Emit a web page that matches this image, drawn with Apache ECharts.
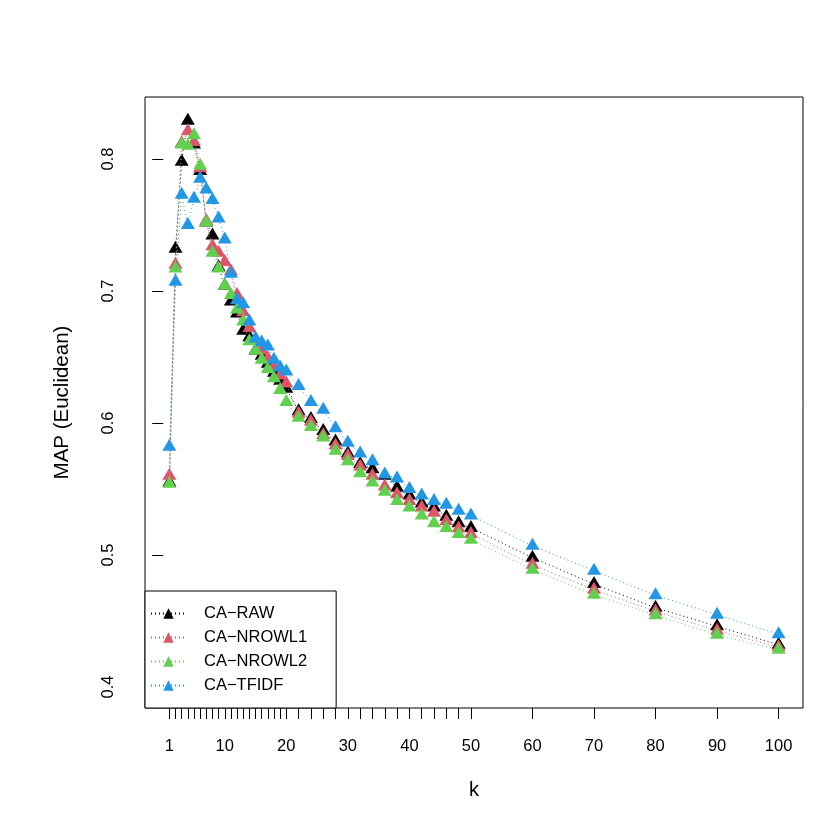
<!DOCTYPE html>
<html>
<head>
<meta charset="utf-8">
<script src="https://cdn.jsdelivr.net/npm/echarts@6/dist/echarts.min.js"></script>
<style>
html, body { margin: 0; padding: 0; background: #fff; }
#main { width: 830px; height: 830px; }
</style>
</head>
<body>
<div id="main"></div>
<script>
// k values on the x axis
var kValues = [1, 2, 3, 4, 5, 6, 7, 8, 9, 10, 11, 12, 13, 14, 15, 16, 17, 18, 19, 20,
               22, 24, 26, 28, 30, 32, 34, 36, 38, 40, 42, 44, 46, 48, 50,
               60, 70, 80, 90, 100];

// MAP (Euclidean) per method
var caRaw = [0.555, 0.732, 0.798, 0.829, 0.811, 0.791, 0.752, 0.742, 0.718, 0.704,
             0.692, 0.683, 0.670, 0.665, 0.655, 0.651, 0.645, 0.638, 0.632, 0.626,
             0.609, 0.603, 0.594, 0.586, 0.577, 0.569, 0.565, 0.560, 0.551, 0.545,
             0.539, 0.536, 0.529, 0.524, 0.5205,
             0.498, 0.478, 0.460, 0.446, 0.432];
var caNrowl1 = [0.560, 0.720, 0.812, 0.821, 0.813, 0.793, 0.753, 0.734, 0.729, 0.722,
                0.715, 0.697, 0.684, 0.672, 0.663, 0.655, 0.649, 0.643, 0.636, 0.630,
                0.607, 0.601, 0.591, 0.583, 0.575, 0.567, 0.560, 0.552, 0.546, 0.541,
                0.536, 0.532, 0.5255, 0.520, 0.516,
                0.4926, 0.4737, 0.4573, 0.4427, 0.4301];
var caNrowl2 = [0.554, 0.717, 0.811, 0.810, 0.818, 0.795, 0.752, 0.729, 0.717, 0.704,
                0.697, 0.686, 0.677, 0.662, 0.655, 0.648, 0.641, 0.634, 0.625, 0.616,
                0.604, 0.597, 0.589, 0.579, 0.571, 0.562, 0.555, 0.548, 0.541, 0.536,
                0.530, 0.524, 0.5205, 0.516, 0.5116,
                0.4889, 0.4699, 0.4543, 0.4396, 0.4283];
var caTfidf = [0.582, 0.707, 0.773, 0.750, 0.770, 0.785, 0.777, 0.769, 0.755, 0.739,
               0.713, 0.693, 0.690, 0.677, 0.664, 0.661, 0.658, 0.648, 0.642, 0.639,
               0.628, 0.616, 0.610, 0.596, 0.585, 0.577, 0.571, 0.561, 0.558, 0.550,
               0.545, 0.541, 0.538, 0.5335, 0.530,
               0.507, 0.488, 0.4695, 0.4548, 0.440];

var seriesNames = ['CA\u2212RAW', 'CA\u2212NROWL1', 'CA\u2212NROWL2', 'CA\u2212TFIDF'];
var seriesColors = ['#000000', '#DF536B', '#61D04F', '#2297E6'];

// axis ticks and labels
var xTicks = [1, 2, 3, 4, 5, 6, 7, 8, 9, 10, 11, 12, 13, 14, 15, 16, 17, 18, 19, 20,
              22, 24, 26, 28, 30, 32, 34, 36, 38, 40, 42, 44, 46, 48, 50,
              60, 70, 80, 90, 100];
var xLabels = [1, 10, 20, 30, 40, 50, 60, 70, 80, 90, 100];
var yTicks = [0.4, 0.5, 0.6, 0.7, 0.8];

var font = 'Liberation Sans, Arial, Helvetica, sans-serif';

function pairs(vals) {
    var out = [];
    for (var i = 0; i < kValues.length; i++) {
        out.push([kValues[i], vals[i]]);
    }
    return out;
}

var allData = [caRaw, caNrowl1, caNrowl2, caTfidf];
var series = [];
for (var s = 0; s < allData.length; s++) {
    series.push({
        name: seriesNames[s],
        type: 'line',
        color: seriesColors[s],
        data: pairs(allData[s]),
        symbol: 'triangle',
        symbolSize: [14, 12],
        symbolOffset: [0, -2],
        showAllSymbol: true,
        lineStyle: { width: 1, type: [1, 3], color: seriesColors[s] },
        itemStyle: { color: seriesColors[s] },
        z: 2 + s
    });
}

var myChart = echarts.init(document.getElementById('main'), null, { renderer: 'canvas' });

var option = {
    animation: false,
    backgroundColor: '#fff',
    grid: {
        left: 145,
        top: 97,
        right: 27,
        bottom: 122,
        show: true,
        borderColor: '#000',
        borderWidth: 1,
        backgroundColor: 'transparent'
    },
    // legend box sits in the lower left corner of the plot
    legend: {
        orient: 'vertical',
        left: 145,
        top: 591,
        data: seriesNames,
        backgroundColor: '#fff',
        borderColor: '#000',
        borderWidth: 1,
        padding: [14, 29, 14, 5],
        itemWidth: 35,
        itemHeight: 13,
        itemGap: 7,
        textStyle: { fontFamily: font, fontSize: 16.5, lineHeight: 17, color: '#000', padding: [0, 0, 0, 13] },
        z: 10
    },
    xAxis: {
        type: 'value',
        min: -2.96,
        max: 103.96,
        name: 'k',
        nameLocation: 'middle',
        nameGap: 72,
        nameTextStyle: { fontFamily: font, fontSize: 20, color: '#000' },
        axisLine: { show: false },
        splitLine: { show: false },
        axisTick: { show: true, length: 11, customValues: xTicks, lineStyle: { color: '#000', width: 1 } },
        axisLabel: { customValues: xLabels, margin: 30, fontFamily: font, fontSize: 16.5, color: '#000' }
    },
    yAxis: {
        type: 'value',
        min: 0.3841,
        max: 0.847,
        name: 'MAP (Euclidean)',
        nameLocation: 'middle',
        nameRotate: 90,
        nameGap: 72,
        nameTextStyle: { fontFamily: font, fontSize: 20.5, color: '#000' },
        axisLine: { show: false },
        splitLine: { show: false },
        axisTick: { show: true, length: 11, customValues: yTicks, lineStyle: { color: '#000', width: 1 } },
        axisLabel: {
            customValues: yTicks,
            rotate: 90,
            margin: 28,
            fontFamily: font,
            fontSize: 16.5,
            color: '#000',
            formatter: function (v) { return v.toFixed(1); }
        }
    },
    series: series
};

myChart.setOption(option);
</script>
</body>
</html>
